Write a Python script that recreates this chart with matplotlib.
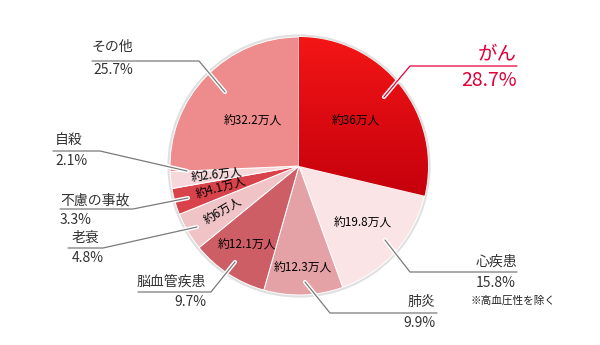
import numpy as np
import matplotlib
matplotlib.use("Agg")
import matplotlib.pyplot as plt
import matplotlib.patheffects as pe
from matplotlib.colors import LinearSegmentedColormap

plt.rcParams['font.family'] = ['Noto Sans CJK JP', 'DejaVu Sans']

# data, clockwise from 12 o'clock
causes = ['がん', '心疾患', '肺炎', '脳血管疾患', '老衰', '不慮の事故', '自殺', 'その他']
shares = [28.7, 15.8, 9.9, 9.7, 4.8, 3.3, 2.1, 25.7]
counts = ['約36万人', '約19.8万人', '約12.3万人', '約12.1万人', '約6万人', '約4.1万人', '約2.6万人', '約32.2万人']
note = '※高血圧性を除く'

colors = ['#dc0a10', '#fae4e6', '#e4a2a6', '#cd5e66', '#f0c4c6', '#d8424a', '#f6d8da', '#ed8b8d']

# layout (pixels, y measured from top)
W, H = 600, 345
cx, cy, R = 299, 166, 129
inner_r = [0.56, 0.66, 0.79, 0.73, 0.68, 0.63, 0.64, 0.50]
rotate_inner = [False, False, False, False, True, True, True, False]

# leader lines: start, elbow, end
leaders = [
    [(384, 97), (410, 66), (517, 66)],
    [(385, 240), (410, 272), (517, 272)],
    [(305, 282), (330, 313), (437, 313)],
    [(235, 262), (211, 292), (138, 292)],
    [(197, 227), (103, 248), (68, 248)],
    [(188, 198), (133, 209), (60, 209)],
    [(187, 171), (100, 151), (53, 151)],
    [(225, 92), (199, 61), (92, 61)],
]
# name position, pct position, alignment
name_pos = [(517, 55), (517, 262), (435, 302), (206, 282), (72, 238), (60, 200), (55, 140), (92, 47)]
pct_pos = [(517, 80), (516, 283), (435, 323), (206, 302), (72, 258), (60, 220), (55, 161), (93, 70)]
align = ['right', 'right', 'right', 'right', 'left', 'left', 'left', 'left']


def P(x, y):
    return x, H - y


fig = plt.figure(figsize=(6, 3.45), dpi=100)
ax = fig.add_axes([0, 0, 1, 1])

# soft outer rim
rim = plt.Circle(P(cx, cy), R + 1.2, facecolor='none', edgecolor='#e0e0e0', linewidth=2.0, zorder=1)
ax.add_patch(rim)

wedges, _ = ax.pie(shares, colors=colors, startangle=90, counterclock=False,
                   center=P(cx, cy), radius=R,
                   wedgeprops=dict(linewidth=0.7, edgecolor='white'))
ax.set_xlim(0, W)
ax.set_ylim(0, H)
ax.set_aspect('equal')
ax.axis('off')

# vertical red gradient for the biggest slice
cmap = LinearSegmentedColormap.from_list('red', ['#f41616', '#c4000c'])
grad = np.linspace(0, 1, 256).reshape(-1, 1)
img = ax.imshow(grad, cmap=cmap, aspect='auto', origin='upper',
                extent=(cx, cx + R + 2, H - 200, H - cy + R + 2), zorder=2)
img.set_clip_path(wedges[0])

# in-slice labels
angles = 90 - 3.6 * (np.cumsum(shares) - np.array(shares) / 2)
for i, w in enumerate(wedges):
    a = np.deg2rad(angles[i])
    x = cx + inner_r[i] * R * np.cos(a)
    y = cy - inner_r[i] * R * np.sin(a)
    rot = angles[i] + 180 if rotate_inner[i] else 0
    ax.text(*P(x, y), counts[i], fontsize=8.5, color='black', ha='center', va='center',
            rotation=rot, rotation_mode='anchor', zorder=5)

# leader lines and outside labels
for i in range(len(causes)):
    is_top = i == 0
    lc = '#e2003a' if is_top else '#7a7a7a'
    tc = '#e2003a' if is_top else '#333333'
    xs = [p[0] for p in leaders[i]]
    ys = [H - p[1] for p in leaders[i]]
    ax.plot(xs, ys, color=lc, linewidth=0.9, zorder=6, solid_capstyle='round',
            path_effects=[pe.Stroke(linewidth=3, foreground='white'), pe.Normal()])
    fs = 14 if is_top else 10
    ax.text(*P(*name_pos[i]), causes[i], fontsize=fs, color=tc, ha=align[i], va='center', zorder=7)
    ax.text(*P(*pct_pos[i]), f'{shares[i]}%', fontsize=fs, color=tc, ha=align[i], va='center', zorder=7)

ax.text(*P(471, 301), note, fontsize=7.7, color='#222222', ha='left', va='center')

fig.savefig('out.png', dpi=100, facecolor='white')
